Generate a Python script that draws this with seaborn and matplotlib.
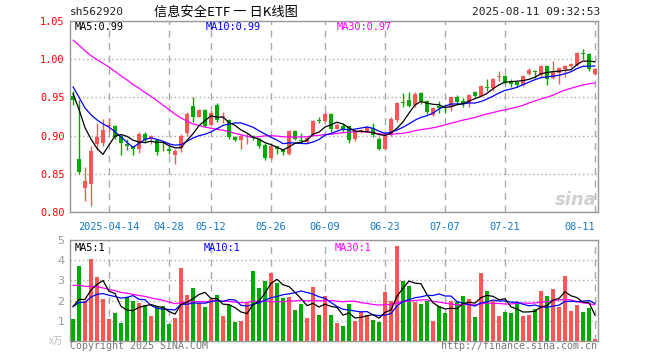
import numpy as np
import pandas as pd
import matplotlib
matplotlib.use("Agg")
import matplotlib.pyplot as plt
import seaborn as sns

# ---------------- data ----------------
opens = [0.952, 0.870, 0.831, 0.836, 0.889, 0.890, 0.912, 0.913, 0.900, 0.889,
         0.886, 0.882, 0.902, 0.896, 0.894, 0.883, 0.883, 0.875, 0.884, 0.903,
         0.939, 0.925, 0.933, 0.914, 0.940, 0.924, 0.921, 0.898, 0.894, 0.899,
         0.900, 0.896, 0.888, 0.871, 0.886, 0.881, 0.876, 0.906, 0.894, 0.892,
         0.900, 0.920, 0.919, 0.928, 0.909, 0.912, 0.912, 0.895, 0.905, 0.906,
         0.910, 0.896, 0.883, 0.901, 0.920, 0.944, 0.947, 0.940, 0.956, 0.945,
         0.927, 0.939, 0.937, 0.937, 0.951, 0.945, 0.943, 0.957, 0.952, 0.964,
         0.962, 0.977, 0.978, 0.971, 0.970, 0.966, 0.981, 0.985, 0.979, 0.991,
         0.975, 0.982, 0.987, 0.991, 0.992, 1.008, 1.007, 0.981]
closes = [0.946, 0.852, 0.840, 0.880, 0.898, 0.907, 0.914, 0.898, 0.890, 0.886,
          0.882, 0.902, 0.894, 0.899, 0.879, 0.882, 0.880, 0.880, 0.899, 0.928,
          0.925, 0.933, 0.913, 0.930, 0.920, 0.925, 0.898, 0.894, 0.900, 0.900,
          0.897, 0.886, 0.871, 0.887, 0.883, 0.879, 0.906, 0.895, 0.893, 0.897,
          0.919, 0.919, 0.928, 0.908, 0.914, 0.907, 0.894, 0.906, 0.907, 0.911,
          0.901, 0.882, 0.900, 0.922, 0.943, 0.943, 0.939, 0.954, 0.945, 0.931,
          0.936, 0.936, 0.936, 0.950, 0.944, 0.943, 0.953, 0.952, 0.965, 0.963,
          0.974, 0.978, 0.970, 0.968, 0.966, 0.978, 0.986, 0.984, 0.991, 0.974,
          0.984, 0.988, 0.991, 0.994, 1.008, 1.007, 0.987, 0.987]
highs = [0.958, 0.946, 0.859, 0.887, 0.917, 0.922, 0.923, 0.914, 0.901, 0.896,
         0.887, 0.905, 0.905, 0.901, 0.895, 0.891, 0.887, 0.883, 0.902, 0.931,
         0.950, 0.935, 0.935, 0.932, 0.943, 0.931, 0.922, 0.900, 0.902, 0.904,
         0.901, 0.897, 0.890, 0.889, 0.887, 0.883, 0.907, 0.907, 0.903, 0.899,
         0.921, 0.925, 0.931, 0.930, 0.916, 0.916, 0.913, 0.907, 0.909, 0.913,
         0.916, 0.898, 0.902, 0.924, 0.944, 0.956, 0.957, 0.957, 0.957, 0.946,
         0.937, 0.945, 0.941, 0.952, 0.953, 0.949, 0.955, 0.959, 0.966, 0.974,
         0.976, 0.984, 0.979, 0.974, 0.972, 0.979, 0.988, 0.986, 0.993, 0.993,
         0.998, 0.990, 0.993, 0.995, 1.009, 1.013, 1.008, 0.988]
lows = [0.940, 0.850, 0.815, 0.808, 0.881, 0.887, 0.905, 0.896, 0.875, 0.881,
        0.875, 0.877, 0.890, 0.889, 0.875, 0.880, 0.876, 0.863, 0.879, 0.900,
        0.918, 0.924, 0.911, 0.912, 0.918, 0.916, 0.896, 0.893, 0.883, 0.889,
        0.894, 0.884, 0.868, 0.869, 0.876, 0.875, 0.874, 0.894, 0.890, 0.890,
        0.899, 0.916, 0.918, 0.905, 0.908, 0.905, 0.890, 0.893, 0.904, 0.905,
        0.898, 0.881, 0.881, 0.900, 0.918, 0.938, 0.937, 0.938, 0.942, 0.928,
        0.926, 0.930, 0.930, 0.932, 0.942, 0.937, 0.937, 0.950, 0.950, 0.959,
        0.959, 0.971, 0.967, 0.964, 0.964, 0.965, 0.979, 0.976, 0.977, 0.966,
        0.974, 0.968, 0.977, 0.990, 0.991, 1.000, 0.984, 0.979]
volumes = [1.08, 3.71, 1.97, 4.06, 3.16, 2.07, 1.08, 1.37, 0.91, 2.19,
           1.97, 1.87, 1.77, 1.23, 1.72, 1.72, 0.86, 1.13, 3.61, 2.27,
           2.62, 1.87, 1.67, 2.07, 2.27, 1.23, 1.77, 0.93, 0.98, 1.87,
           3.46, 2.62, 2.96, 3.36, 2.86, 2.12, 2.17, 1.52, 1.82, 1.13,
           2.67, 1.27, 2.22, 1.27, 0.89, 0.75, 1.82, 0.98, 1.42, 1.27,
           1.04, 0.94, 2.43, 2.00, 4.70, 2.98, 2.73, 1.92, 1.84, 2.00,
           0.99, 1.72, 1.39, 1.99, 1.92, 2.22, 2.07, 1.18, 3.36, 2.47,
           1.97, 1.23, 1.42, 1.37, 1.92, 1.23, 1.27, 1.57, 2.47, 2.22,
           2.58, 1.69, 3.23, 1.47, 1.77, 1.42, 1.64, 0.08]
# closes / volumes before the visible window, estimated from where the MA lines start
pre_close = [1.05, 1.06, 1.07, 1.06, 1.05, 1.06, 1.07, 1.06, 1.05, 1.06,
             1.05, 1.06, 1.05, 1.05, 1.06, 1.05, 1.06, 1.05, 1.05, 1.04,
             0.99, 0.98, 0.97, 0.965, 0.96, 0.955, 0.96, 0.955, 0.959]
pre_volume = [3.2, 3.8, 4.1, 3.6, 3.9, 3.4, 3.1, 3.6, 3.3, 3.7,
              3.5, 3.2, 3.4, 3.6, 3.3, 3.5, 3.6, 2.0, 1.8, 1.88,
              1.6, 1.9, 1.5, 1.8, 1.7, 1.9, 2.0, 1.7, 1.82]
tick_pos = [6, 16, 23, 33, 42, 52, 62, 72, 87]
tick_labels = ["2025-04-14", "04-28", "05-12", "05-26", "06-09",
               "06-23", "07-07", "07-21", "08-11"]
price_ticks = [0.80, 0.85, 0.90, 0.95, 1.00, 1.05]
vol_ticks = [1, 2, 3, 4, 5]

# ---------------- styling ----------------
sns.set_theme(style="white")
plt.rcParams['font.family'] = ['DejaVu Sans Mono', 'Noto Sans CJK SC']

RED = "#FF5555"
GREEN = "#00AA00"
GRID = "#AAAAAA"
SPINE = "#999999"
W, H = 660, 360

fig = plt.figure(figsize=(6.6, 3.6), dpi=100)
fig.patch.set_facecolor("white")
ax = fig.add_axes([70 / W, 1 - 212 / H, 528 / W, 191 / H])
axv = fig.add_axes([70 / W, 1 - 341 / H, 528 / W, 101 / H])

o = np.array(opens); c = np.array(closes)
hi = np.array(highs); lo = np.array(lows)
n = len(c)
idx = np.arange(n)
up = c >= o
colors = np.where(up, RED, GREEN)

# moving averages
s_close = pd.Series(pre_close + closes)
ma_p = {w: s_close.rolling(w).mean().iloc[len(pre_close):].to_numpy() for w in (5, 10, 30)}
s_vol = pd.Series(pre_volume + volumes)
ma_v = {w: s_vol.rolling(w).mean().iloc[len(pre_volume):].to_numpy() for w in (5, 10, 30)}

for a in (ax, axv):
    a.set_axisbelow(True)
    a.xaxis.grid(True, linestyle=(0, (5, 4)), color=GRID, lw=1)
    a.yaxis.grid(True, linestyle=(0, (1, 2)), color=GRID, lw=1)
    for sp in a.spines.values():
        sp.set_color(SPINE)
        sp.set_linewidth(1)
    a.tick_params(length=0)

# ---------------- price panel ----------------
ax.vlines(idx, lo, hi, colors=colors, lw=1, zorder=2)
body_h = np.abs(c - o)
min_h = 0.0012
bottoms = np.where(body_h < min_h, (o + c) / 2 - min_h / 2, np.minimum(o, c))
ax.bar(idx, np.maximum(body_h, min_h), bottom=bottoms, width=0.8,
       color=colors, linewidth=0, zorder=3, antialiased=False)

sns.lineplot(x=idx, y=ma_p[30], ax=ax, color="#FF00FF", lw=0.9, zorder=4)
sns.lineplot(x=idx, y=ma_p[10], ax=ax, color="#0000FF", lw=0.9, zorder=5)
sns.lineplot(x=idx, y=ma_p[5], ax=ax, color="black", lw=0.9, zorder=6)

ax.set_xlim(-0.5, n - 0.5)
ax.set_ylim(0.80, 1.05)
ax.set_yticks(price_ticks)
ax.set_yticklabels([f"{v:.2f}" for v in price_ticks], color="#FF0000", fontsize=7.4)
ax.tick_params(axis="y", pad=4)
ax.set_xticks(tick_pos)
ax.set_xticklabels(tick_labels, color="#1177CC", fontsize=7.4)
ax.tick_params(axis="x", pad=7)
ax.get_xticklabels()[-1].set_ha("right")
ax.set_xlabel(""); ax.set_ylabel("")

# ---------------- volume panel ----------------
axv.bar(idx, volumes, width=0.83, color=colors, linewidth=0, zorder=2, antialiased=False)
sns.lineplot(x=idx, y=ma_v[30], ax=axv, color="#FF00FF", lw=0.9, zorder=4)
sns.lineplot(x=idx, y=ma_v[10], ax=axv, color="#0000FF", lw=0.9, zorder=5)
sns.lineplot(x=idx, y=ma_v[5], ax=axv, color="black", lw=0.9, zorder=6)
axv.set_xlim(-0.5, n - 0.5)
axv.set_xticks(tick_pos)
axv.set_xticklabels([])
axv.set_ylim(0, 5)
axv.set_yticks(vol_ticks)
axv.set_yticklabels([str(v) for v in vol_ticks], color="#999999", fontsize=8,
                    family="DejaVu Sans")
axv.tick_params(axis="y", pad=4)
axv.set_xlabel(""); axv.set_ylabel("")

# ---------------- texts ----------------
def P(x, y):
    return x / W, 1 - y / H

fig.text(*P(70, 12), "sh562920", ha="left", va="center", fontsize=8, color="#222222")
fig.text(*P(226, 12), "信息安全ETF 一 日K线图", ha="center", va="center", fontsize=9.5,
         color="black", family=["Noto Sans CJK SC", "DejaVu Sans"])
fig.text(*P(600, 12), "2025-08-11 09:32:53", ha="right", va="center", fontsize=8, color="#222222")

fig.text(*P(75, 27), "MA5:0.99", ha="left", va="center", fontsize=7.4, color="black")
fig.text(*P(206, 27), "MA10:0.99", ha="left", va="center", fontsize=7.4, color="#0000FF")
fig.text(*P(337, 27), "MA30:0.97", ha="left", va="center", fontsize=7.4, color="#FF00FF")

fig.text(*P(75, 248), "MA5:1", ha="left", va="center", fontsize=7.4, color="black")
fig.text(*P(204, 248), "MA10:1", ha="left", va="center", fontsize=7.4, color="#0000FF")
fig.text(*P(335, 248), "MA30:1", ha="left", va="center", fontsize=7.4, color="#FF00FF")

fig.text(*P(63, 341), "x万", ha="right", va="center", fontsize=7, color="#BBBBBB",
         family=["Noto Sans CJK SC", "DejaVu Sans"])
fig.text(*P(70, 346), "Copyright 2025 SINA.COM", ha="left", va="center", fontsize=7.2, color="#777777")
fig.text(*P(597, 346), "http://finance.sina.com.cn", ha="right", va="center", fontsize=7.2, color="#777777")
fig.text(*P(597, 200), "sina", ha="right", va="center", fontsize=13, color="#D0D0D0",
         style="italic", weight="bold", family="DejaVu Sans")

fig.savefig("out.png", dpi=100, facecolor="white")
